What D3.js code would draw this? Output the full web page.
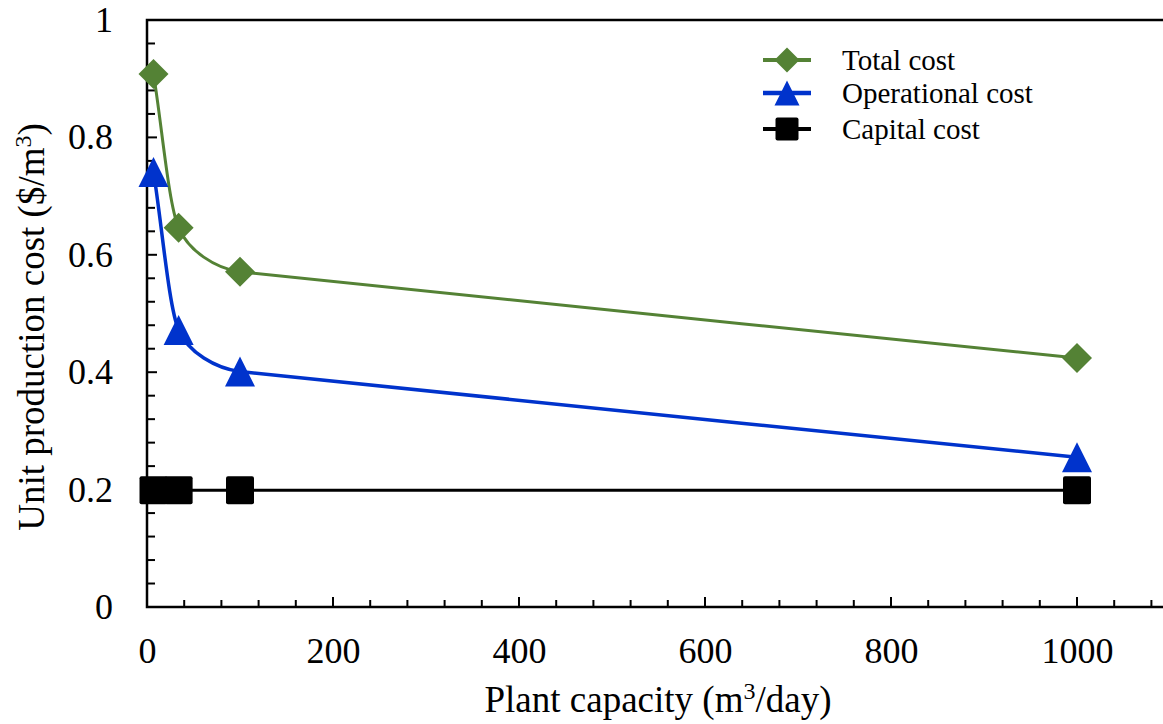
<!DOCTYPE html>
<html>
<head>
<meta charset="utf-8">
<script src="https://cdn.jsdelivr.net/npm/d3@7"></script>
<style>
	body { margin: 0; background: #fff; }
	svg { display: block; font-family: "Liberation Serif", "Times New Roman", serif; }
	.tick text { font-family: "Liberation Serif", "Times New Roman", serif; font-size: 36px; fill: #000; }
</style>
</head>
<body>
<div id="chart"></div>
<script>
// plant capacity (m3/day)
const capacities = [7, 34, 100, 1000];
// unit production cost ($/m3)
const totalCost = [0.908, 0.646, 0.571, 0.424];
const operationalCost = [0.741, 0.472, 0.401, 0.255];
const capitalCost = [0.199, 0.199, 0.199, 0.199];

const seriesNames = ['Total cost', 'Operational cost', 'Capital cost'];
const xTickValues = [0, 200, 400, 600, 800, 1000];
const yTickValues = [0, 0.2, 0.4, 0.6, 0.8, 1];

const width = 1163, height = 724;
const margin = {top: 20, right: -7, bottom: 117, left: 147};

const series = [
	{name: seriesNames[0], values: totalCost, color: '#548235', marker: 'diamond', lw: 3},
	{name: seriesNames[1], values: operationalCost, color: '#0033cc', marker: 'triangle', lw: 3.5},
	{name: seriesNames[2], values: capitalCost, color: '#000000', marker: 'square', lw: 3}
];

const svg = d3.select('#chart').append('svg')
	.attr('width', width)
	.attr('height', height);

const x = d3.scaleLinear()
	.domain([0, 1100])
	.range([margin.left, width - margin.right]);

const y = d3.scaleLinear()
	.domain([0, 1])
	.range([height - margin.bottom, margin.top]);

// marker shapes, centred on the point
function markerPath(type, s) {
	if (type === 'diamond')
		return `M0,${-s}L${s},0L0,${s}L${-s},0Z`;
	if (type === 'triangle')
		return `M0,${-s}L${s},${s}L${-s},${s}Z`;
	return null;
}

function drawMarker(g, type, cx, cy, s, color) {
	if (type === 'square') {
		g.append('rect')
			.attr('x', cx - s).attr('y', cy - s)
			.attr('width', 2 * s).attr('height', 2 * s)
			.attr('rx', 2)
			.attr('fill', color);
	} else {
		g.append('path')
			.attr('d', markerPath(type, s))
			.attr('transform', `translate(${cx},${cy})`)
			.attr('fill', color);
	}
}

/*
 * Smoothed line like a spreadsheet's: the tangent at each point follows its
 * neighbours, but the handles are kept short so long segments stay straight.
 */
function smoothPath(pts) {
	const n = pts.length;
	const dist = (a, b) => Math.hypot(b[0] - a[0], b[1] - a[1]);
	const unit = (a, b) => {
		const d = dist(a, b) || 1;
		return [(b[0] - a[0]) / d, (b[1] - a[1]) / d];
	};
	const seg = d3.range(n - 1).map(i => dist(pts[i], pts[i + 1]));
	const dir = pts.map((p, i) => {
		if (i === 0) return unit(pts[0], pts[1]);
		if (i === n - 1) return unit(pts[n - 2], pts[n - 1]);
		return unit(pts[i - 1], pts[i + 1]);
	});
	const hand = pts.map((p, i) => {
		if (i === 0) return seg[0] / 3;
		if (i === n - 1) return seg[n - 2] / 3;
		return Math.min(seg[i - 1], seg[i]) / 3;
	});
	const path = d3.path();
	path.moveTo(pts[0][0], pts[0][1]);
	for (let i = 0; i < n - 1; i++) {
		const a = pts[i], b = pts[i + 1];
		path.bezierCurveTo(
			a[0] + dir[i][0] * hand[i], a[1] + dir[i][1] * hand[i],
			b[0] - dir[i + 1][0] * hand[i + 1], b[1] - dir[i + 1][1] * hand[i + 1],
			b[0], b[1]);
	}
	return path.toString();
}

// frame
svg.append('rect')
	.attr('x', x(0)).attr('y', y(1))
	.attr('width', x(1100) - x(0)).attr('height', y(0) - y(1))
	.attr('fill', 'none')
	.attr('stroke', '#000')
	.attr('stroke-width', 2.5);

// x axis, ticks pointing inward
const xAxis = svg.append('g')
	.attr('transform', `translate(0,${y(0)})`)
	.call(d3.axisBottom(x).tickValues(xTickValues).tickSize(0).tickPadding(30).tickFormat(d3.format('d')));
xAxis.attr('font-family', null);
xAxis.select('.domain').remove();
svg.append('g').selectAll('line')
	.data(d3.range(0, 1101, 40))
	.join('line')
	.attr('x1', d => x(d)).attr('x2', d => x(d))
	.attr('y1', y(0))
	.attr('y2', d => y(0) - (d % 200 === 0 ? 10 : 7))
	.attr('stroke', '#000')
	.attr('stroke-width', 2);

// y axis
const yAxis = svg.append('g')
	.attr('transform', `translate(${x(0)},0)`)
	.call(d3.axisLeft(y).tickValues(yTickValues).tickSize(0).tickPadding(34).tickFormat(d => d === 0 || d === 1 ? d : d.toFixed(1)));
yAxis.attr('font-family', null);
yAxis.select('.domain').remove();
svg.append('g').selectAll('line')
	.data(d3.range(0, 26).map(i => i * 0.04))
	.join('line')
	.attr('x1', x(0))
	.attr('x2', (d, i) => x(0) + (i % 5 === 0 ? 10 : 8))
	.attr('y1', d => y(d)).attr('y2', d => y(d))
	.attr('stroke', '#000')
	.attr('stroke-width', 2);

// axis titles
const xTitle = svg.append('text')
	.attr('x', 658).attr('y', 712)
	.attr('text-anchor', 'middle')
	.attr('font-size', 37);
xTitle.append('tspan').text('Plant capacity (m');
xTitle.append('tspan').attr('font-size', 24).attr('dy', -13).text('3');
xTitle.append('tspan').attr('dy', 13).text('/day)');

const yTitle = svg.append('text')
	.attr('transform', 'translate(44,327) rotate(-90)')
	.attr('text-anchor', 'middle')
	.attr('font-size', 37);
yTitle.append('tspan').text('Unit production cost ($/m');
yTitle.append('tspan').attr('font-size', 24).attr('dy', -13).text('3');
yTitle.append('tspan').attr('dy', 13).text(')');

// lines and markers
const plot = svg.append('g');
series.forEach(s => {
	const pts = capacities.map((c, i) => [x(c), y(s.values[i])]);
	plot.append('path')
		.attr('d', smoothPath(pts))
		.attr('fill', 'none')
		.attr('stroke', s.color)
		.attr('stroke-width', s.lw);
});
series.forEach(s => {
	const g = plot.append('g');
	capacities.forEach((c, i) => {
		drawMarker(g, s.marker, x(c), y(s.values[i]), s.marker === 'square' ? 14 : 15, s.color);
	});
});

// legend
const legend = svg.append('g');
const legendRows = [60, 93, 129];
series.forEach((s, i) => {
	const ly = legendRows[i];
	legend.append('line')
		.attr('x1', 763).attr('x2', 811)
		.attr('y1', ly).attr('y2', ly)
		.attr('stroke', s.color)
		.attr('stroke-width', s.lw + 1);
	drawMarker(legend, s.marker, 787, ly, s.marker === 'square' ? 11.5 : 12.5, s.color);
	legend.append('text')
		.attr('x', 842).attr('y', ly + 10)
		.attr('font-size', 29)
		.text(s.name);
});
</script>
</body>
</html>
